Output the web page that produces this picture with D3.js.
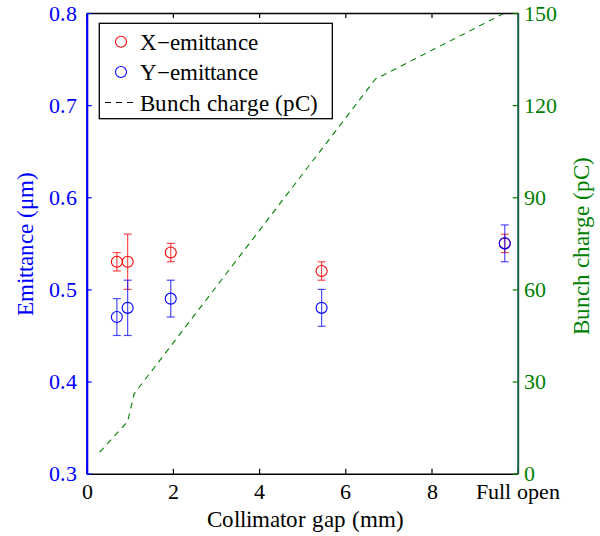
<!DOCTYPE html>
<html>
<head>
<meta charset="utf-8">
<script src="https://cdn.jsdelivr.net/npm/d3@7"></script>
<style>
  @font-face {
    font-family: "PlotSerif";
    src: local("Liberation Serif"), local("LiberationSerif"), local("LiberationSerif-Regular"), local("Liberation Serif Regular");
  }
  html, body { margin: 0; padding: 0; background: #fff; }
  svg { display: block; }
  svg text { font-family: "PlotSerif", "Liberation Serif", "DejaVu Serif", serif !important; }
</style>
</head>
<body>
<svg id="chart" width="600" height="536"></svg>
<script>
// Collimator gap positions (mm); the last one stands for "Full open"
const gapPos = [0.7, 0.95, 1.95, 5.45, 9.7];
// Emittance (µm) and error half-widths
const xEmit = [0.53, 0.53, 0.54, 0.52, 0.55];
const xErr  = [0.01, 0.03, 0.01, 0.01, 0.01];
const yEmit = [0.47, 0.48, 0.49, 0.48, 0.55];
const yErr  = [0.02, 0.03, 0.02, 0.02, 0.02];
// Bunch charge (pC) versus gap
const chargeGap = [0.3, 0.95, 1.1, 6.7, 9.7];
const charge    = [7, 17, 26, 128.5, 150];
// Axis ticks
const xTicks = [0, 2, 4, 6, 8, 10];
const xTickLabels = ["0", "2", "4", "6", "8", "Full open"];
const leftTicks = [0.3, 0.4, 0.5, 0.6, 0.7, 0.8];
const rightTicks = [0, 30, 60, 90, 120, 150];

const svg = d3.select("#chart");
const L = 86.7, R = 517.7, T = 13, B = 473.7;

const x = d3.scaleLinear().domain([0, 10]).range([L, R]);
const yL = d3.scaleLinear().domain([0.3, 0.8]).range([B, T]);
const yR = d3.scaleLinear().domain([0, 150]).range([B, T]);

const RED = "#ff0000", BLUE = "#0000ff", GREEN = "#008000";
const tickFont = 22, labelFont = 23;

// Bunch charge dashed line
const line = d3.line().x((d, i) => x(chargeGap[i])).y(d => yR(d));
svg.append("path")
  .datum(charge)
  .attr("d", line)
  .attr("fill", "none")
  .attr("stroke", GREEN)
  .attr("stroke-width", 1.1)
  .attr("stroke-dasharray", "6,5");

// Error bar series
function series(vals, errs, color) {
  const g = svg.append("g");
  const capW = 4;
  vals.forEach((v, i) => {
    const cx = x(gapPos[i]);
    const lo = yL(v - errs[i]), hi = yL(v + errs[i]);
    const eb = g.append("g").attr("stroke", color).attr("stroke-width", 1.2).attr("stroke-opacity", 0.7);
    eb.append("line").attr("x1", cx).attr("x2", cx).attr("y1", lo).attr("y2", hi);
    eb.append("line").attr("x1", cx - capW).attr("x2", cx + capW).attr("y1", lo).attr("y2", lo);
    eb.append("line").attr("x1", cx - capW).attr("x2", cx + capW).attr("y1", hi).attr("y2", hi);
    g.append("circle").attr("cx", cx).attr("cy", yL(v)).attr("r", 5.5)
      .attr("fill", "none").attr("stroke", color).attr("stroke-width", 1.1);
  });
}
series(xEmit, xErr, RED);
series(yEmit, yErr, BLUE);

// Axes frame: bottom & top (black)
const xAxisB = d3.axisBottom(x).tickValues(xTicks).tickSizeInner(-5).tickSizeOuter(0)
  .tickFormat((d, i) => xTickLabels[i]).tickPadding(10);
const gB = svg.append("g").attr("transform", `translate(0,${B})`).call(xAxisB);
gB.select(".domain").attr("stroke", "#000").attr("stroke-width", 1.6);
gB.selectAll(".tick line").attr("stroke", "#000").attr("stroke-width", 1.2);
gB.selectAll(".tick text").attr("font-size", tickFont).attr("fill", "#000");

const xAxisT = d3.axisTop(x).tickValues(xTicks).tickSizeInner(-5).tickSizeOuter(0).tickFormat("");
const gT = svg.append("g").attr("transform", `translate(0,${T})`).call(xAxisT);
gT.select(".domain").attr("stroke", "#000").attr("stroke-width", 1.4);
gT.selectAll(".tick line").attr("stroke", "#000").attr("stroke-width", 1.2);

// Left axis (blue)
const yAxisL = d3.axisLeft(yL).tickValues(leftTicks).tickSizeInner(-5).tickSizeOuter(0)
  .tickFormat(d3.format(".1f")).tickPadding(10);
const gL = svg.append("g").attr("transform", `translate(${L},0)`).call(yAxisL);
gL.select(".domain").attr("stroke", BLUE).attr("stroke-width", 2.2);
gL.selectAll(".tick line").attr("stroke", BLUE).attr("stroke-width", 1.2);
gL.selectAll(".tick text").attr("font-size", tickFont).attr("fill", BLUE);

// Right axis (green)
const yAxisR = d3.axisRight(yR).tickValues(rightTicks).tickSizeInner(-5).tickSizeOuter(0).tickPadding(6);
const gR = svg.append("g").attr("transform", `translate(${R},0)`).call(yAxisR);
gR.select(".domain").attr("stroke", "#1d5e4e").attr("stroke-width", 2);
gR.selectAll(".tick line").attr("stroke", GREEN).attr("stroke-width", 1.2);
gR.selectAll(".tick text").attr("font-size", tickFont).attr("fill", GREEN);

// Axis titles
svg.append("text").attr("x", (L + R) / 2 + 3).attr("y", 527)
  .attr("text-anchor", "middle").attr("font-size", labelFont).attr("fill", "#000")
  .text("Collimator gap (mm)");
svg.append("text").attr("transform", `translate(33,244) rotate(-90)`)
  .attr("text-anchor", "middle").attr("font-size", labelFont).attr("fill", BLUE)
  .text("Emittance (\u03bcm)");
svg.append("text").attr("transform", `translate(589,246) rotate(-90)`)
  .attr("text-anchor", "middle").attr("font-size", labelFont).attr("fill", GREEN)
  .text("Bunch charge (pC)");

// Legend
const lg = svg.append("g");
lg.append("rect").attr("x", 99.3).attr("y", 23.3).attr("width", 233).attr("height", 95.4)
  .attr("fill", "#fff").attr("stroke", "#000").attr("stroke-width", 1.3);
const legendItems = [
  { label: "X\u2212emittance", color: RED, type: "circle", y: 41.7 },
  { label: "Y\u2212emittance", color: BLUE, type: "circle", y: 72 },
  { label: "Bunch charge (pC)", color: "#000", type: "dash", y: 102.5 }
];
legendItems.forEach(it => {
  if (it.type === "circle") {
    lg.append("circle").attr("cx", 121).attr("cy", it.y).attr("r", 5.5)
      .attr("fill", "none").attr("stroke", it.color).attr("stroke-width", 1.1);
  } else {
    lg.append("line").attr("x1", 105).attr("x2", 138).attr("y1", it.y).attr("y2", it.y)
      .attr("stroke", it.color).attr("stroke-width", 1.1).attr("stroke-dasharray", "6,5");
  }
  lg.append("text").attr("x", 140).attr("y", it.y + 8)
    .attr("font-size", labelFont).attr("fill", "#000").text(it.label);
});
</script>
</body>
</html>
